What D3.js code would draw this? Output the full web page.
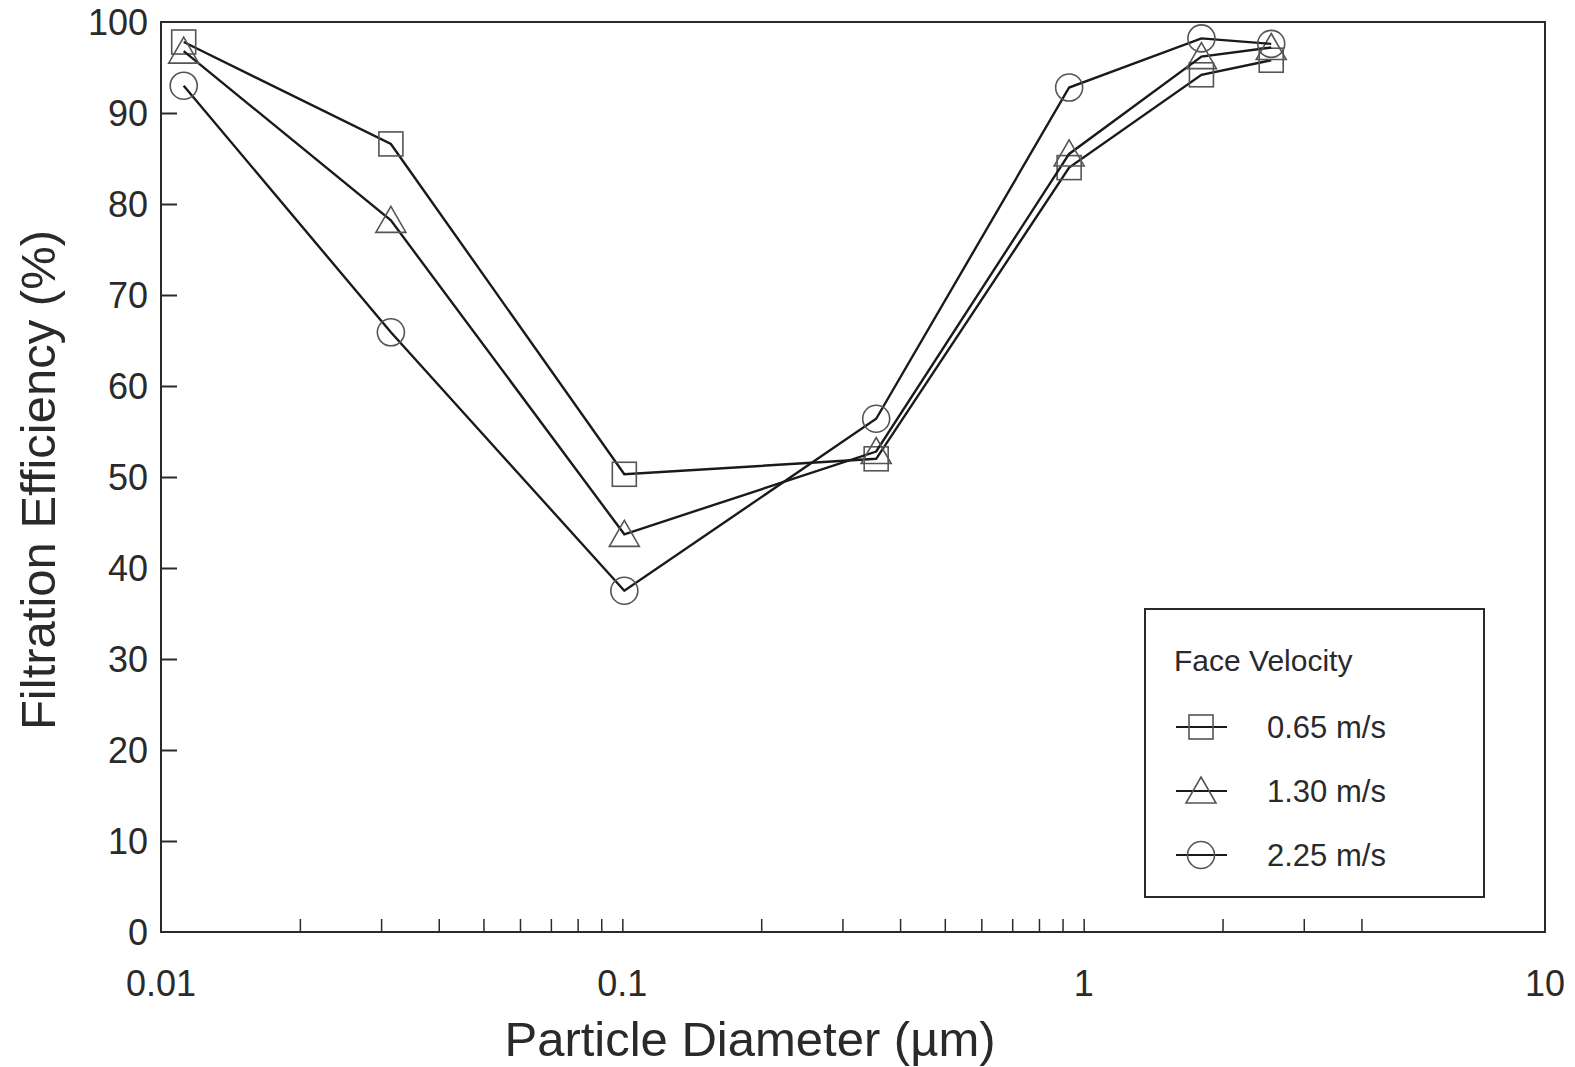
<!DOCTYPE html>
<html>
<head>
<meta charset="utf-8">
<script src="https://cdn.jsdelivr.net/npm/d3@7"></script>
<style>
  body { margin: 0; background: #fff; }
  text { font-family: "Liberation Sans", Arial, sans-serif; fill: #2a2a2a; }
</style>
</head>
<body>
<div id="chart"></div>
<script>
// particle diameters (um)
const diameters = [0.0112, 0.0315, 0.101, 0.355, 0.93, 1.8, 2.55];
// filtration efficiency (%) per face velocity
const eff065 = [97.8, 86.6, 50.3, 52.0, 84.0, 94.2, 95.8];
const eff130 = [96.8, 78.2, 43.7, 52.8, 85.5, 96.2, 97.2];
const eff225 = [93.0, 65.9, 37.5, 56.4, 92.8, 98.2, 97.6];
const seriesNames = ["0.65 m/s", "1.30 m/s", "2.25 m/s"];
const seriesSymbols = ["square", "triangle", "circle"];
const yTicks = [0, 10, 20, 30, 40, 50, 60, 70, 80, 90, 100];
const xLabels = [0.01, 0.1, 1, 10];
const xMinor = [0.02, 0.03, 0.04, 0.05, 0.06, 0.07, 0.08, 0.09, 0.1,
  0.2, 0.3, 0.4, 0.5, 0.6, 0.7, 0.8, 0.9, 1, 2, 3, 4];

const width = 1575, height = 1067;
const marginLeft = 161, marginRight = 30, marginTop = 22, marginBottom = 135;
const ink = "#2a2a2a";

const x = d3.scaleLog([0.01, 10], [marginLeft, width - marginRight]);
const y = d3.scaleLinear([0, 100], [height - marginBottom, marginTop]);

const svg = d3.select("#chart").append("svg")
    .attr("width", width)
    .attr("height", height)
    .attr("viewBox", [0, 0, width, height]);

// frame
svg.append("rect")
    .attr("x", x(0.01))
    .attr("y", y(100))
    .attr("width", x(10) - x(0.01))
    .attr("height", y(0) - y(100))
    .attr("fill", "none")
    .attr("stroke", ink)
    .attr("stroke-width", 2);

// y axis, ticks pointing inward
svg.append("g")
    .attr("transform", `translate(${marginLeft},0)`)
    .call(d3.axisRight(y).tickValues(yTicks.slice(1, -1)).tickSize(16).tickFormat(""))
    .call(g => g.select(".domain").remove())
    .call(g => g.selectAll(".tick line").attr("stroke", ink).attr("stroke-width", 2));

svg.append("g")
    .selectAll("text")
    .data(yTicks)
    .join("text")
      .attr("x", marginLeft - 13)
      .attr("y", d => y(d))
      .attr("dy", "0.36em")
      .attr("text-anchor", "end")
      .attr("font-size", 36)
      .text(d => d);

// x axis, minor ticks pointing up
svg.append("g")
    .attr("transform", `translate(0,${height - marginBottom})`)
    .call(d3.axisTop(x).tickValues(xMinor).tickSize(13).tickFormat(""))
    .call(g => g.select(".domain").remove())
    .call(g => g.selectAll(".tick line").attr("stroke", ink).attr("stroke-width", 1.5));

svg.append("g")
    .selectAll("text")
    .data(xLabels)
    .join("text")
      .attr("x", d => x(d))
      .attr("y", height - marginBottom + 64)
      .attr("text-anchor", "middle")
      .attr("font-size", 36)
      .text(d => d);

// axis titles
svg.append("text")
    .attr("x", 750)
    .attr("y", 1056)
    .attr("text-anchor", "middle")
    .attr("font-size", 49)
    .text("Particle Diameter (\u00b5m)");

svg.append("text")
    .attr("transform", `translate(55,${(y(0) + y(100)) / 2 + 3}) rotate(-90)`)
    .attr("text-anchor", "middle")
    .attr("font-size", 49)
    .text("Filtration Efficiency (%)");

// markers
function marker(g, type) {
  if (type === "square") {
    g.append("rect").attr("x", -12).attr("y", -12).attr("width", 24).attr("height", 24);
  } else if (type === "triangle") {
    g.append("path").attr("d", "M0,-14L15,12L-15,12Z");
  } else {
    g.append("circle").attr("r", 13.5);
  }
  g.selectAll("*").attr("fill", "none").attr("stroke", "#555").attr("stroke-width", 1.6);
}

const series = [eff065, eff130, eff225];
const line = d3.line().x(d => x(d[0])).y(d => y(d[1]));

series.forEach((vals, k) => {
  const pts = diameters.map((d, i) => [d, vals[i]]);
  svg.append("path")
      .attr("d", line(pts))
      .attr("fill", "none")
      .attr("stroke", "#1a1a1a")
      .attr("stroke-width", 2.4);
  svg.append("g")
    .selectAll("g")
    .data(pts)
    .join("g")
      .attr("transform", d => `translate(${x(d[0])},${y(d[1])})`)
      .each(function() { marker(d3.select(this), seriesSymbols[k]); });
});

// legend
const legend = svg.append("g").attr("transform", "translate(1145,609)");
legend.append("rect")
    .attr("width", 339)
    .attr("height", 288)
    .attr("fill", "#fff")
    .attr("stroke", ink)
    .attr("stroke-width", 2);
legend.append("text")
    .attr("x", 29)
    .attr("y", 62)
    .attr("font-size", 30)
    .text("Face Velocity");

seriesNames.forEach((name, k) => {
  const row = legend.append("g").attr("transform", `translate(0,${118 + k * 64})`);
  row.append("line")
      .attr("x1", 31).attr("x2", 82)
      .attr("stroke", "#1a1a1a").attr("stroke-width", 2);
  const m = row.append("g").attr("transform", "translate(56,0)");
  marker(m, seriesSymbols[k]);
  row.append("text")
      .attr("x", 122)
      .attr("y", 0)
      .attr("dy", "0.36em")
      .attr("font-size", 31)
      .text(name);
});
</script>
</body>
</html>
